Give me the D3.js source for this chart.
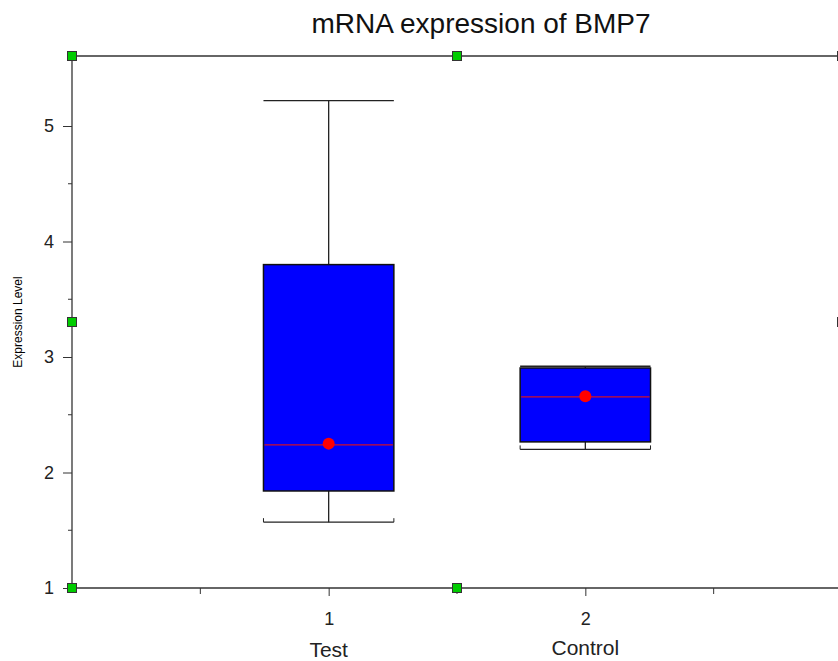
<!DOCTYPE html>
<html><head><meta charset="utf-8">
<script src="https://cdn.jsdelivr.net/npm/d3@7"></script>
<style>body{margin:0;background:#fff}svg{display:block}text{font-family:"Liberation Sans",Arial,sans-serif;fill:#000}</style>
</head><body><svg id="c" width="838" height="661"></svg>
<script>
const categories = ["Test", "Control"];
const groupPos = [1, 2];
const whiskerHigh = [5.22, 2.92];
const q3 = [3.80, 2.905];
const median = [2.24, 2.655];
const q1 = [1.84, 2.265];
const whiskerLow = [1.57, 2.20];
const means = [2.25, 2.66];
const yTicks = [1, 2, 3, 4, 5];
const yMinor = [1.5, 2.5, 3.5, 4.5];
const xTicks = [1, 2];
const xMinor = [0.5, 1.5, 2.5];

const svg = d3.select("#c");
const L = 72, T = 56, R = 842, B = 588;
const x = d3.scaleLinear().domain([0, 3]).range([L, R]);
const y = d3.scaleLinear().domain([1, 5]).range([B, 126]);
const boxW = 0.508;

svg.append("text").attr("x", 481).attr("y", 33).attr("text-anchor", "middle")
  .style("font-size", "28px").style("fill", "#111").text("mRNA expression of BMP7");

// frame
svg.append("line").attr("x1", L).attr("x2", 838).attr("y1", T).attr("y2", T).attr("stroke", "#333").attr("stroke-width", 1.3);

// y axis
const ya = svg.append("g").attr("transform", `translate(${L},0)`)
  .call(d3.axisLeft(y).tickValues(yTicks).tickSize(9).tickSizeOuter(0).tickPadding(9).tickFormat(d3.format("d")));
ya.select(".domain").remove();
ya.selectAll("text").style("font-size", "18px").style("fill", "#222");
ya.selectAll("line").attr("stroke", "#333");
svg.append("line").attr("x1", L).attr("x2", L).attr("y1", T).attr("y2", B).attr("stroke", "#333").attr("stroke-width", 1.3);
svg.append("g").selectAll("line").data(yMinor.concat([5.6])).join("line")
  .attr("x1", L - 4).attr("x2", L).attr("y1", d => y(d)).attr("y2", d => y(d)).attr("stroke", "#333");

// x axis
const xa = svg.append("g").attr("transform", `translate(0,${B})`)
  .call(d3.axisBottom(x).tickValues(xTicks).tickSize(8).tickSizeOuter(0).tickPadding(16).tickFormat(d3.format("d")));
xa.select(".domain").remove();
xa.selectAll("text").style("font-size", "18px").style("fill", "#222");
xa.selectAll("line").attr("stroke", "#333");
svg.append("line").attr("x1", L).attr("x2", 838).attr("y1", B).attr("y2", B).attr("stroke", "#333").attr("stroke-width", 1.3);
svg.append("g").selectAll("line").data(xMinor).join("line")
  .attr("x1", d => x(d)).attr("x2", d => x(d)).attr("y1", B).attr("y2", B + 6).attr("stroke", "#333");

svg.append("g").selectAll("text").data(categories).join("text")
  .attr("x", (d, i) => x(groupPos[i])).attr("y", (d, i) => i === 0 ? 657 : 655)
  .attr("text-anchor", "middle").style("font-size", "21px").style("fill", "#222").text(d => d);

svg.append("text").attr("transform", "translate(22,322) rotate(-90)").attr("text-anchor", "middle")
  .style("font-size", "12px").text("Expression Level");

// boxes
const g = svg.append("g");
groupPos.forEach((p, i) => {
  const xl = x(p - boxW / 2), xr = x(p + boxW / 2), xc = x(p);
  g.append("line").attr("x1", xc).attr("x2", xc).attr("y1", y(whiskerHigh[i])).attr("y2", y(whiskerLow[i])).attr("stroke", "#222").attr("stroke-width", 1.3);
  [whiskerHigh[i], whiskerLow[i]].forEach(v => {
    g.append("line").attr("x1", xl).attr("x2", xr).attr("y1", y(v)).attr("y2", y(v)).attr("stroke", "#222").attr("stroke-width", 1.3);
  });
  g.append("line").attr("x1", xl).attr("x2", xl).attr("y1", y(whiskerLow[i])).attr("y2", y(whiskerLow[i]) - 4).attr("stroke", "#222");
  g.append("line").attr("x1", xr).attr("x2", xr).attr("y1", y(whiskerLow[i])).attr("y2", y(whiskerLow[i]) - 4).attr("stroke", "#222");
  g.append("rect").attr("x", xl).attr("y", y(q3[i])).attr("width", xr - xl).attr("height", y(q1[i]) - y(q3[i]))
    .attr("fill", "#0000ff").attr("stroke", "#111").attr("stroke-width", 1.5);
  g.append("line").attr("x1", xl + 1).attr("x2", xr - 1).attr("y1", y(median[i])).attr("y2", y(median[i])).attr("stroke", "#d0102a").attr("stroke-width", 1.2);
  g.append("circle").attr("cx", xc).attr("cy", y(means[i])).attr("r", 6).attr("fill", "#ff0000");
});

// selection handles
const handles = [[L, T], [457, T], [L, 322], [L, B], [457, B], [842, T], [842, 322]];
svg.append("g").selectAll("rect").data(handles).join("rect")
  .attr("x", d => d[0] - 4.5).attr("y", d => d[1] - 4.5).attr("width", 9).attr("height", 9)
  .attr("fill", "#00cc00").attr("stroke", "#333").attr("stroke-width", 1);
</script></body></html>
